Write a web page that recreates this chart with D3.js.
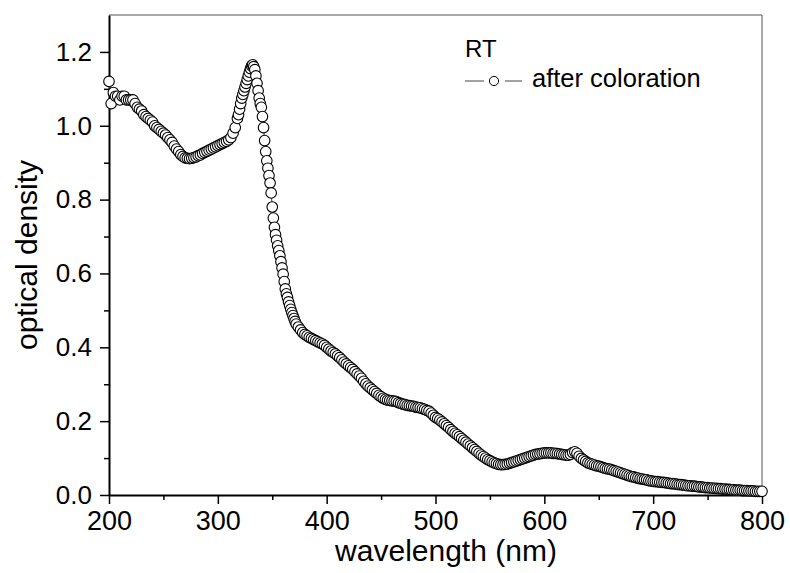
<!DOCTYPE html>
<html>
<head>
<meta charset="utf-8">
<script src="https://cdn.jsdelivr.net/npm/d3@7"></script>
<style>
  body { margin: 0; background: #fff; }
  svg text { font-family: "Liberation Sans", Arial, sans-serif; fill: #000; }
</style>
</head>
<body>
<div id="chart"></div>
<script>

// optical density, three sampling segments
var odUV = [ // 200..318 nm, every 2 nm
  1.12, 1.06, 1.09, 1.08, 1.08, 1.07, 1.08, 1.08, 1.07, 1.07,
  1.07, 1.07, 1.06, 1.05, 1.045, 1.04, 1.03, 1.025, 1.02, 1.015,
  1.01, 1.0, 0.995, 0.99, 0.985, 0.98, 0.975, 0.968, 0.962, 0.955,
  0.945, 0.937, 0.93, 0.922, 0.917, 0.913, 0.912, 0.911, 0.912, 0.914,
  0.916, 0.919, 0.921, 0.925, 0.928, 0.931, 0.934, 0.937, 0.94, 0.943,
  0.946, 0.949, 0.952, 0.955, 0.958, 0.962, 0.968, 0.98, 0.995, 1.02
];
var odPeak = [ // 319..372 nm, every 1 nm
  1.03, 1.045, 1.06, 1.075, 1.085, 1.095, 1.105, 1.115, 1.125, 1.135,
  1.145, 1.155, 1.162, 1.165, 1.16, 1.152, 1.135, 1.115, 1.095, 1.075,
  1.06, 1.05, 1.025, 0.995, 0.96, 0.93, 0.905, 0.885, 0.865, 0.845,
  0.818, 0.78, 0.75, 0.725, 0.705, 0.69, 0.675, 0.662, 0.648, 0.632,
  0.615, 0.598, 0.578, 0.558, 0.545, 0.535, 0.523, 0.513, 0.503, 0.494,
  0.486, 0.478, 0.47, 0.463
];
var odVis = [ // 374..800 nm, every 2 nm
  0.455, 0.447, 0.44, 0.435, 0.431, 0.427, 0.424, 0.421, 0.418, 0.415, 0.412, 0.409, 0.405,
  0.40, 0.395, 0.39, 0.386, 0.382, 0.377, 0.372, 0.366, 0.36, 0.355,
  0.35, 0.345, 0.34, 0.334, 0.328, 0.322, 0.316, 0.308, 0.301, 0.295,
  0.29, 0.285, 0.28, 0.275, 0.27, 0.266, 0.262, 0.259, 0.257, 0.256,
  0.255, 0.254, 0.253, 0.25, 0.248, 0.246, 0.245, 0.243, 0.242, 0.241,
  0.24, 0.238, 0.237, 0.236, 0.234, 0.232, 0.229, 0.227, 0.222, 0.216,
  0.21, 0.207, 0.203, 0.198, 0.193, 0.188, 0.183, 0.177, 0.172, 0.167,
  0.163, 0.158, 0.153, 0.148, 0.143, 0.138, 0.133, 0.128, 0.123, 0.118,
  0.113, 0.108, 0.104, 0.1, 0.096, 0.093, 0.09, 0.087, 0.085, 0.083,
  0.082, 0.082, 0.083, 0.084, 0.086, 0.088, 0.09, 0.092, 0.094, 0.096,
  0.098, 0.1, 0.102, 0.104, 0.106, 0.108, 0.11, 0.111, 0.112, 0.113,
  0.114, 0.114, 0.114, 0.114, 0.113, 0.113, 0.112, 0.111, 0.11, 0.109,
  0.108, 0.108, 0.11, 0.115, 0.117, 0.113, 0.105, 0.099, 0.095, 0.091,
  0.087, 0.085, 0.083, 0.081, 0.079, 0.078, 0.076, 0.074, 0.072, 0.071,
  0.07, 0.068, 0.066, 0.064, 0.062, 0.06, 0.058, 0.056, 0.054, 0.052,
  0.05, 0.049, 0.047, 0.046, 0.044, 0.043, 0.042, 0.041, 0.039, 0.038,
  0.037, 0.036, 0.036, 0.035, 0.034, 0.034, 0.033, 0.032, 0.031, 0.031,
  0.03, 0.029, 0.028, 0.028, 0.027, 0.026, 0.025, 0.025, 0.024, 0.024,
  0.023, 0.022, 0.022, 0.021, 0.02, 0.02, 0.019, 0.019, 0.018, 0.018,
  0.017, 0.017, 0.016, 0.016, 0.015, 0.015, 0.014, 0.014, 0.013, 0.013,
  0.013, 0.012, 0.012, 0.012, 0.011, 0.011, 0.011, 0.01, 0.01, 0.01,
  0.01
];
var segments = [
  { start: 200, step: 2, values: odUV },
  { start: 319, step: 1, values: odPeak },
  { start: 374, step: 2, values: odVis }
];

var xTicks = [200, 300, 400, 500, 600, 700, 800];
var xMinor = [250, 350, 450, 550, 650, 750];
var yTicks = [0.0, 0.2, 0.4, 0.6, 0.8, 1.0, 1.2];
var yMinor = [0.1, 0.3, 0.5, 0.7, 0.9, 1.1];

var xLabel = "wavelength (nm)";
var yLabel = "optical density";
var legendTitle = "RT";
var seriesName = "after coloration";

var data = [];
segments.forEach(function(s){
  s.values.forEach(function(v, i){
    data.push({ wl: s.start + i * s.step, od: v });
  });
});

var width = 790, height = 573;
var plotL = 109, plotR = 762, plotT = 15, plotB = 495;
var markR = 5.3;

var svg = d3.select("#chart").append("svg")
    .attr("width", width)
    .attr("height", height);

var x = d3.scaleLinear().domain([200, 800]).range([plotL, plotR]);
var y = d3.scaleLinear().domain([0, 1.3]).range([plotB, plotT]);

// frame (top / right thin)
svg.append("path")
    .attr("d", "M" + plotL + "," + plotT + "H" + plotR + "V" + plotB)
    .attr("fill", "none")
    .attr("stroke", "#555")
    .attr("stroke-width", 1);

// minor ticks
svg.append("g")
    .attr("transform", "translate(0," + plotB + ")")
    .call(d3.axisBottom(x).tickValues(xMinor).tickSize(5).tickFormat(""))
    .call(function(g){ g.select(".domain").remove(); })
    .selectAll("line").attr("stroke-width", 1.5);
svg.append("g")
    .attr("transform", "translate(" + plotL + ",0)")
    .call(d3.axisLeft(y).tickValues(yMinor).tickSize(5).tickFormat(""))
    .call(function(g){ g.select(".domain").remove(); })
    .selectAll("line").attr("stroke-width", 1.5);

// major axes
var gx = svg.append("g")
    .attr("transform", "translate(0," + plotB + ")")
    .call(d3.axisBottom(x).tickValues(xTicks).tickSize(9).tickSizeOuter(0).tickPadding(7).tickFormat(d3.format("d")));
gx.select(".domain").attr("stroke-width", 2);
gx.selectAll("line").attr("stroke-width", 1.5);
gx.selectAll("text").attr("font-size", 27).attr("font-family", null);

var gy = svg.append("g")
    .attr("transform", "translate(" + plotL + ",0)")
    .call(d3.axisLeft(y).tickValues(yTicks).tickSize(9).tickSizeOuter(0).tickPadding(8).tickFormat(d3.format(".1f")));
gy.select(".domain").attr("stroke-width", 2);
gy.selectAll("line").attr("stroke-width", 1.5);
gy.selectAll("text").attr("font-size", 26).attr("font-family", null);

// axis titles
svg.append("text")
    .attr("x", 446)
    .attr("y", 561)
    .attr("text-anchor", "middle")
    .attr("font-size", 30)
    .text(xLabel);

svg.append("text")
    .attr("transform", "translate(37,255) rotate(-90)")
    .attr("text-anchor", "middle")
    .attr("font-size", 30)
    .text(yLabel);

// series: connecting line then open circles
var line = d3.line()
    .x(function(d){ return x(d.wl); })
    .y(function(d){ return y(d.od); });

svg.append("path")
    .datum(data)
    .attr("d", line)
    .attr("fill", "none")
    .attr("stroke", "#444")
    .attr("stroke-width", 1);

svg.append("g").selectAll("circle")
    .data(data)
    .enter().append("circle")
    .attr("cx", function(d){ return x(d.wl); })
    .attr("cy", function(d){ return y(d.od); })
    .attr("r", markR)
    .attr("fill", "#fff")
    .attr("stroke", "#000")
    .attr("stroke-width", 1.1);

// legend
svg.append("text")
    .attr("x", 465)
    .attr("y", 57)
    .attr("font-size", 24)
    .text(legendTitle);

svg.append("line")
    .attr("x1", 465).attr("x2", 484)
    .attr("y1", 81).attr("y2", 81)
    .attr("stroke", "#444").attr("stroke-width", 1);
svg.append("line")
    .attr("x1", 505).attr("x2", 522)
    .attr("y1", 81).attr("y2", 81)
    .attr("stroke", "#444").attr("stroke-width", 1);
svg.append("circle")
    .attr("cx", 494).attr("cy", 81).attr("r", 4.6)
    .attr("fill", "#fff").attr("stroke", "#000").attr("stroke-width", 1);

svg.append("text")
    .attr("x", 532)
    .attr("y", 87)
    .attr("font-size", 25.5)
    .text(seriesName);

</script>
</body>
</html>
